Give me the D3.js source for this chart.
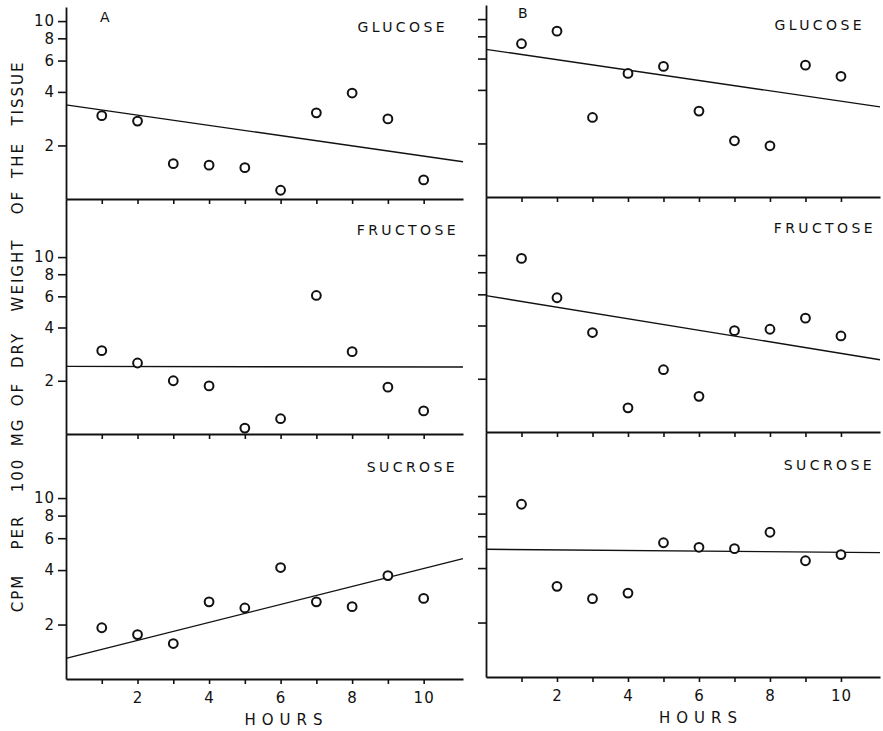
<!DOCTYPE html>
<html>
<head>
<meta charset="utf-8">
<script src="https://cdn.jsdelivr.net/npm/d3@7"></script>
<style>
  body { margin: 0; background: #fff; }
  svg text { font-family: "DejaVu Sans", "Liberation Sans", sans-serif; fill: #111; }
</style>
</head>
<body>
<div id="chart"></div>
<script>
// data (cpm per 100 mg dry weight, log scale)
var hours = [1, 2, 3, 4, 5, 6, 7, 8, 9, 10];
var glucoseA = [2.94, 2.74, 1.58, 1.55, 1.50, 1.12, 3.05, 3.94, 2.82, 1.28];
var fructoseA = [2.96, 2.52, 2.00, 1.87, 1.08, 1.22, 6.07, 2.92, 1.84, 1.35];
var sucroseA = [1.92, 1.76, 1.57, 2.67, 2.47, 4.13, 2.67, 2.51, 3.73, 2.79];
var glucoseB = [7.27, 8.55, 2.80, 4.95, 5.42, 3.04, 2.07, 1.94, 5.51, 4.77];
var fructoseB = [9.58, 5.74, 3.65, 1.37, 2.25, 1.59, 3.74, 3.81, 4.40, 3.49];
var sucroseB = [9.01, 3.17, 2.71, 2.91, 5.52, 5.21, 5.12, 6.31, 4.39, 4.75];

// regression lines, value at start and end of the hour axis
var fitHours = [0, 11.1];
var glucoseFitA = [3.38, 1.62];
var fructoseFitA = [2.41, 2.39];
var sucroseFitA = [1.30, 4.63];
var glucoseFitB = [6.76, 3.21];
var fructoseFitB = [5.90, 2.56];
var sucroseFitB = [5.08, 4.87];

var yTicks = [2, 4, 6, 8, 10];
var xTickLabels = [2, 4, 6, 8, 10];
var sugars = ["GLUCOSE", "FRUCTOSE", "SUCROSE"];
var panelLetters = ["A", "B"];
var yTitleWords = ["CPM", "PER", "100", "MG", "OF", "DRY", "WEIGHT", "OF", "THE", "TISSUE"];

// layout
var width = 883, height = 731;
var cols = [{x0: 66, x1: 463, shift: 0}, {x0: 486, x1: 880, shift: -2}];
var rows = [
    {top: 7, bottom: 199, yMax: 12, titleY: 32, titleOff: 18},
    {top: 199, bottom: 434, yMax: 21.3, titleY: 235, titleOff: 7},
    {top: 434, bottom: 679, yMax: 22.6, titleY: 472, titleOff: 8}
];
// centre of each word of the rotated y title
var yTitlePos = [593, 532, 475, 432, 394, 350, 275, 202, 160, 93];

var panels = [
    {col: 0, row: 0, values: glucoseA, fit: glucoseFitA},
    {col: 0, row: 1, values: fructoseA, fit: fructoseFitA},
    {col: 0, row: 2, values: sucroseA, fit: sucroseFitA},
    {col: 1, row: 0, values: glucoseB, fit: glucoseFitB},
    {col: 1, row: 1, values: fructoseB, fit: fructoseFitB},
    {col: 1, row: 2, values: sucroseB, fit: sucroseFitB}
];

var svg = d3.select("#chart")
    .append("svg")
    .attr("width", width)
    .attr("height", height);

panels.forEach(function (p) {
    var c = cols[p.col], r = rows[p.row];
    var x = d3.scaleLinear().domain(fitHours).range([c.x0, c.x1]);
    var y = d3.scaleLog().domain([1, r.yMax]).range([r.bottom + c.shift, r.top + c.shift]);

    var g = svg.append("g").attr("class", "panel");

    // x axis, ticks every hour, labels on the bottom row only
    var xAxis = d3.axisBottom(x)
        .tickValues(hours)
        .tickSize(5)
        .tickSizeOuter(0)
        .tickPadding(8)
        .tickFormat(function (d) {
            return (p.row === 2 && xTickLabels.indexOf(d) >= 0) ? d : "";
        });
    var gx = g.append("g")
        .attr("transform", "translate(0," + (r.bottom + c.shift) + ")")
        .call(xAxis);

    var yAxis = d3.axisLeft(y)
        .tickValues(yTicks)
        .tickSize(8)
        .tickSizeOuter(0)
        .tickPadding(3)
        .tickFormat(function (d) { return p.col === 0 ? d : ""; });
    var gy = g.append("g")
        .attr("transform", "translate(" + c.x0 + ",0)")
        .call(yAxis);

    [gx, gy].forEach(function (a) {
        a.select(".domain").attr("stroke", "#111").attr("stroke-width", 1.8);
        a.selectAll(".tick line").attr("stroke", "#111").attr("stroke-width", 1.6);
        a.selectAll(".tick text")
            .attr("fill", "#111")
            .style("font-family", "DejaVu Sans, sans-serif")
            .style("font-size", "15px")
            .style("letter-spacing", "1px");
    });

    // regression line
    var line = d3.line()
        .x(function (d) { return x(d[0]); })
        .y(function (d) { return y(d[1]); });
    g.append("path")
        .datum(fitHours.map(function (h, i) { return [h, p.fit[i]]; }))
        .attr("d", line)
        .attr("fill", "none")
        .attr("stroke", "#111")
        .attr("stroke-width", 1.4);

    // open circles
    g.selectAll("circle")
        .data(p.values)
        .enter().append("circle")
        .attr("cx", function (d, i) { return x(hours[i]); })
        .attr("cy", function (d) { return y(d); })
        .attr("r", 4.4)
        .attr("fill", "#fff")
        .attr("stroke", "#111")
        .attr("stroke-width", 2);

    // sugar name
    g.append("text")
        .attr("x", c.x1 - r.titleOff + 3)
        .attr("y", r.titleY + c.shift)
        .attr("text-anchor", "end")
        .style("font-size", "14px")
        .style("letter-spacing", "3.4px")
        .text(sugars[p.row]);

    if (p.row === 2) {
        g.append("text")
            .attr("x", (c.x0 + c.x1) / 2 + (p.col === 0 ? 22 : 18))
            .attr("y", 725 + c.shift)
            .attr("text-anchor", "middle")
            .style("font-size", "15px")
            .style("letter-spacing", "6px")
            .text("HOURS");
    }
});

// panel letters
svg.selectAll(".letter")
    .data(panelLetters)
    .enter().append("text")
    .attr("class", "letter")
    .attr("x", function (d, i) { return i === 0 ? 100 : 518; })
    .attr("y", function (d, i) { return i === 0 ? 22 : 18; })
    .style("font-size", "14px")
    .text(function (d) { return d; });

// y axis title, one word at a time
svg.selectAll(".ytitle")
    .data(yTitleWords)
    .enter().append("text")
    .attr("class", "ytitle")
    .attr("transform", function (d, i) {
        return "translate(23," + yTitlePos[i] + ") rotate(-90)";
    })
    .attr("text-anchor", "middle")
    .style("font-size", "15px")
    .style("letter-spacing", "2px")
    .text(function (d) { return d; });
</script>
</body>
</html>
